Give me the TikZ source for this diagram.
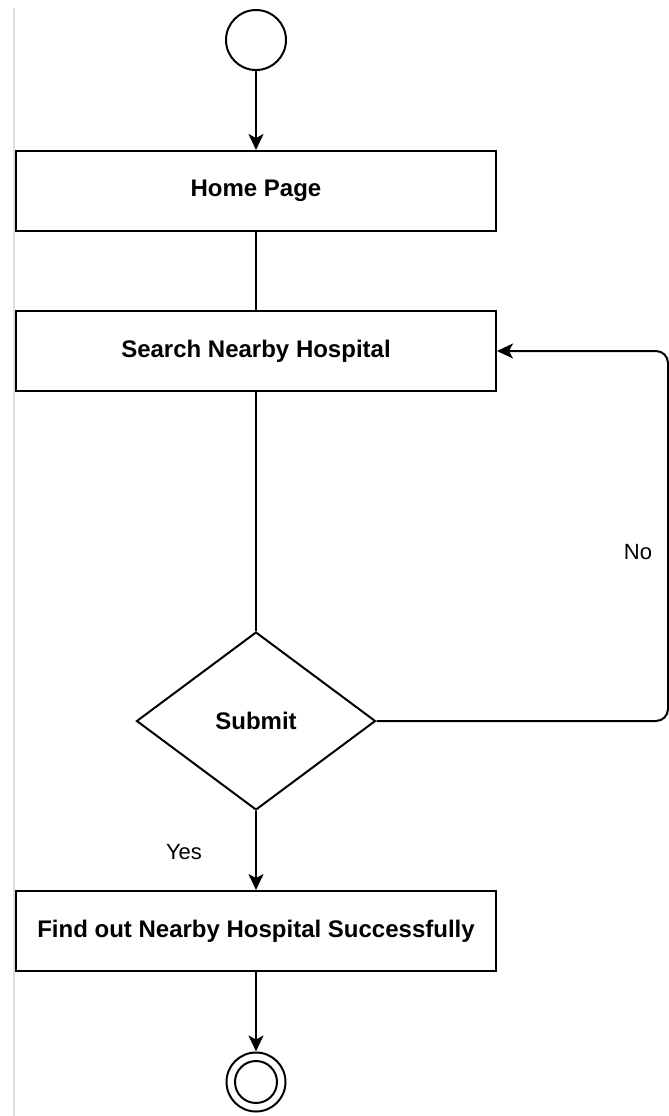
\documentclass[tikz,border=0pt]{standalone}
\usepackage{fontspec}
\setmainfont{Liberation Sans}
\usetikzlibrary{shapes.geometric,arrows.meta}

\begin{document}
\begin{tikzpicture}[x=0.5pt,y=-0.5pt,line width=1pt,
   >={Stealth[length=8pt,width=7.5pt,inset=2pt]},
   box/.style={rectangle,draw,minimum width=240pt,
    minimum height=40pt,inner sep=0pt,
    font=\fontsize{12}{14}\selectfont\bfseries},
   decision/.style={diamond,draw,aspect=1.34,minimum width=119.5pt,
    minimum height=89pt,inner sep=0pt,
    font=\fontsize{12}{14}\selectfont\bfseries},
   endpt/.style={circle,draw,inner sep=0pt},
   lbl/.style={font=\fontsize{11}{13}\selectfont}
    ]

    \useasboundingbox (0,0) rectangle (669,1116);

    % page edge:
    \draw[gray!25,line width=0.75pt] (14,8) -- (14,1116);

    % start / end:
    \node[endpt,minimum size=30pt] at (256,40) (start) {};
    \node[endpt,minimum size=29.5pt] at (256,1082) (finish) {};
    \node[endpt,minimum size=21pt] at (256,1082) (finishin) {};

    % Boxes:
    \node[box] at (256,191) (home) {Home Page};
    \node[box] at (256,351) (search) {Search Nearby Hospital};
    \node[decision] at (256,721) (submit) {Submit};
    \node[box] at (256,931) (found) {Find out Nearby Hospital Successfully};

    % labels:
    \node[lbl] at (184,852) (yes) {Yes};
    \node[lbl] at (638,552) (no) {No};

    % arrows
    \coordinate (loop) at (668,721);

    \draw[->] (start) -- (home);
    \draw (home) -- (search);
    \draw (search) -- (submit);
    \draw[->] (submit) -- (found);
    \draw[->] (found) -- (finish);
    \draw[->,rounded corners=6pt] (submit.east) -- (loop) |- (search.east);

\end{tikzpicture}
\end{document}
